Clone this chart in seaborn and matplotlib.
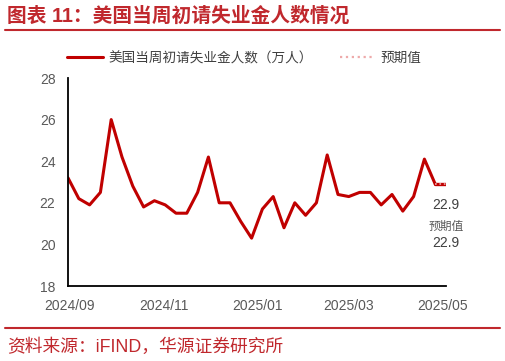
import pandas as pd
import matplotlib.pyplot as plt
from matplotlib.lines import Line2D
import seaborn as sns

# ── Data ───────────────────────────────────────────────────────────────────────
week_start = "2024-08-31"
claims = [23.2, 22.2, 21.9, 22.5, 26.0, 24.2, 22.8, 21.8, 22.1, 21.9,
          21.5, 21.5, 22.5, 24.2, 22.0, 22.0, 21.1, 20.3, 21.7, 22.3,
          20.8, 22.0, 21.4, 22.0, 24.3, 22.4, 22.3, 22.5, 22.5, 21.9,
          22.4, 21.6, 22.3, 24.1, 22.9]
forecast_dates = ["2025-04-26", "2025-05-03"]
forecast = [22.9, 22.9]
tick_dates = ["2024-09-01", "2024-11-01", "2025-01-01", "2025-03-01", "2025-05-01"]
tick_labels = ["2024/09", "2024/11", "2025/01", "2025/03", "2025/05"]

series_name = "美国当周初请失业金人数（万人）"
forecast_name = "预期值"
title = "图表 11：美国当周初请失业金人数情况"
source = "资料来源：iFIND，华源证券研究所"

RED = "#c00000"
PINK = "#eeaaaa"
TITLE_RED = "#c0282d"
GRAY = "#595959"

df = pd.DataFrame({"date": pd.date_range(week_start, periods=len(claims), freq="7D"),
                   "value": claims})
fc = pd.DataFrame({"date": pd.to_datetime(forecast_dates), "value": forecast})

# ── Style ──────────────────────────────────────────────────────────────────────
sns.set_style("white")
plt.rcParams["font.family"] = ["Liberation Sans", "Noto Sans CJK SC", "DejaVu Sans"]

fig = plt.figure(figsize=(5.06, 3.61), dpi=100)
ax = fig.add_axes([68 / 506, 75 / 361, 378 / 506, 208 / 361])

sns.lineplot(data=df, x="date", y="value", ax=ax, color=RED, lw=2.2)
sns.lineplot(data=fc, x="date", y="value", ax=ax, color=RED, lw=2.4)
sns.lineplot(data=fc, x="date", y="value", ax=ax, color=PINK, lw=1.2, linestyle=":")

ax.set_xlim(pd.Timestamp(week_start), pd.Timestamp(forecast_dates[-1]))
ax.set_ylim(18, 28)
ax.set_yticks(range(18, 29, 2))
ax.set_yticks([28], minor=True)
ax.set_xticks(pd.to_datetime(tick_dates))
ax.set_xticklabels(tick_labels)
ax.set_xlabel("")
ax.set_ylabel("")

for s in ["top", "right"]:
    ax.spines[s].set_visible(False)
for s in ["left", "bottom"]:
    ax.spines[s].set_color("black")
    ax.spines[s].set_linewidth(1.3)

ax.tick_params(axis="x", direction="in", length=5, width=1.2, color="black",
               labelsize=10, labelcolor=GRAY, pad=9)
ax.tick_params(axis="y", which="major", length=0, labelsize=10, labelcolor=GRAY, pad=9)
ax.tick_params(axis="y", which="minor", direction="in", length=4, width=1.2, color="black")

# value labels
x_lab = pd.Timestamp(forecast_dates[-1])
ax.text(x_lab, 21.9, f"{claims[-1]:.1f}", ha="center", va="center",
        fontsize=10, color="#404040", clip_on=False)
ax.text(x_lab, 20.84, forecast_name, ha="center", va="center",
        fontsize=8.5, color=GRAY, clip_on=False)
ax.text(x_lab, 20.07, f"{forecast[-1]:.1f}", ha="center", va="center",
        fontsize=10, color="#404040", clip_on=False)

# legend
handles = [Line2D([], [], color=RED, lw=2.2),
           Line2D([], [], color=PINK, lw=1.6, linestyle=":")]
fig.legend(handles, [series_name, forecast_name], loc="center left",
           bbox_to_anchor=(55 / 506, 1 - 58 / 361), ncol=2, frameon=False,
           fontsize=9.8, handlelength=2.6, handletextpad=0.4, columnspacing=2.0,
           labelcolor="#404040")

# title, rules, source
fig.text(7 / 506, 1 - 16 / 361, title, ha="left", va="center",
         fontsize=14.2, fontweight="bold", color=TITLE_RED)
fig.add_artist(Line2D([5 / 506, 500 / 506], [1 - 30 / 361] * 2, color=TITLE_RED, lw=1.5))
fig.add_artist(Line2D([5 / 506, 500 / 506], [1 - 328 / 361] * 2, color=TITLE_RED, lw=1.5))
fig.text(7 / 506, 1 - 347 / 361, source, ha="left", va="center",
         fontsize=12.8, color=TITLE_RED)

fig.savefig("out.png", dpi=100)
